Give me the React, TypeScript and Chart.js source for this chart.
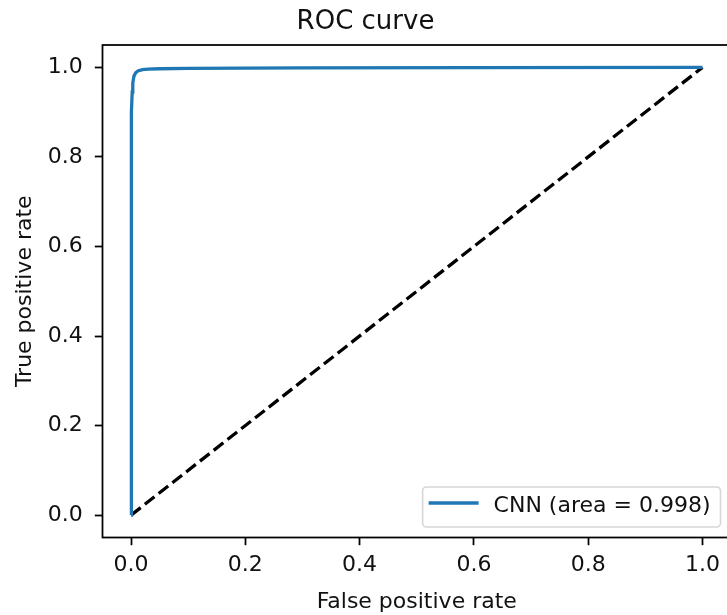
import React, { useEffect, useRef } from 'react';
import { Chart, registerables } from 'chart.js';

Chart.register(...registerables);

// ROC curve points (false positive rate / true positive rate)
const fpr = [0, 0.0002, 0.0005, 0.001, 0.002, 0.003, 0.005, 0.008, 0.012, 0.02, 0.03, 0.05, 0.1, 0.3, 0.6, 1.0];
const tpr = [0, 0.6, 0.82, 0.9, 0.945, 0.965, 0.98, 0.988, 0.992, 0.995, 0.996, 0.997, 0.998, 0.999, 0.9995, 1.0];

// chance diagonal
const diagX = [0, 1];
const diagY = [0, 1];

const titleText = 'ROC curve';
const xLabel = 'False positive rate';
const yLabel = 'True positive rate';
const seriesLabel = 'CNN (area = 0.998)';

const FONT = '"DejaVu Sans", sans-serif';
const BLUE = '#1f77b4';
const TEXT = '#111';

const framePlugin = {
  id: 'frameAndLegend',
  afterDatasetsDraw(chart: any) {
    const { ctx, chartArea } = chart;
    const { left, top, right, bottom } = chartArea;
    ctx.save();
    // spines
    ctx.strokeStyle = '#000';
    ctx.lineWidth = 1.76;
    ctx.strokeRect(left, top, right - left, bottom - top);

    // legend (lower right, inside axes)
    ctx.font = `22px ${FONT}`;
    const textW = ctx.measureText(seriesLabel).width;
    const padL = 6, handleLen = 50, gap = 15, padR = 10, boxH = 40;
    const boxR = right - 10.5;
    const boxB = bottom - 10.5;
    const boxW = padL + handleLen + gap + textW + padR;
    const boxL = boxR - boxW;
    const boxT = boxB - boxH;
    const r = 4;
    ctx.beginPath();
    ctx.moveTo(boxL + r, boxT);
    ctx.lineTo(boxR - r, boxT);
    ctx.arcTo(boxR, boxT, boxR, boxT + r, r);
    ctx.lineTo(boxR, boxB - r);
    ctx.arcTo(boxR, boxB, boxR - r, boxB, r);
    ctx.lineTo(boxL + r, boxB);
    ctx.arcTo(boxL, boxB, boxL, boxB - r, r);
    ctx.lineTo(boxL, boxT + r);
    ctx.arcTo(boxL, boxT, boxL + r, boxT, r);
    ctx.closePath();
    ctx.fillStyle = 'rgba(255,255,255,0.8)';
    ctx.fill();
    ctx.strokeStyle = '#d6d6d6';
    ctx.lineWidth = 1.6;
    ctx.stroke();

    ctx.beginPath();
    ctx.moveTo(boxL + padL, boxT + 16);
    ctx.lineTo(boxL + padL + handleLen, boxT + 16);
    ctx.strokeStyle = BLUE;
    ctx.lineWidth = 3.3;
    ctx.stroke();

    ctx.fillStyle = TEXT;
    ctx.textBaseline = 'alphabetic';
    ctx.textAlign = 'left';
    ctx.fillText(seriesLabel, boxL + padL + handleLen + gap, boxT + 25);
    ctx.restore();
  },
};

export default function App() {
  const ref = useRef<HTMLCanvasElement | null>(null);

  useEffect(() => {
    if (!ref.current) return;
    const chart = new Chart(ref.current, {
      type: 'scatter',
      data: {
        datasets: [
          {
            label: seriesLabel,
            data: fpr.map((x, i) => ({ x, y: tpr[i] })),
            showLine: true,
            borderColor: BLUE,
            backgroundColor: BLUE,
            borderWidth: 3.3,
            pointRadius: 0,
            tension: 0,
            order: 0,
          },
          {
            label: 'chance',
            data: diagX.map((x, i) => ({ x, y: diagY[i] })),
            showLine: true,
            borderColor: '#000',
            backgroundColor: '#000',
            borderWidth: 3.3,
            borderDash: [12.2, 5.3],
            pointRadius: 0,
            order: 1,
          },
        ],
      },
      options: {
        responsive: false,
        animation: false,
        devicePixelRatio: 1,
        layout: { padding: 0 },
        plugins: {
          legend: { display: false },
          tooltip: { enabled: false },
          title: {
            display: true,
            text: titleText,
            color: TEXT,
            font: { family: FONT, size: 26, weight: 'normal', lineHeight: 1.2 },
            padding: { top: 7.1, bottom: 6.7 },
          },
        },
        scales: {
          x: {
            type: 'linear',
            min: -0.05,
            max: 1.05,
            afterFit: (s: any) => { s.height = 77.5; },
            border: { display: false },
            grid: { display: true, drawOnChartArea: false, drawTicks: true, tickLength: 7.7, tickColor: '#000', tickWidth: 1.76 },
            ticks: {
              stepSize: 0.2,
              includeBounds: false,
              padding: 7,
              color: TEXT,
              font: { family: FONT, size: 22, lineHeight: 1.2 },
              maxRotation: 0,
              callback: (v: any) => Number(v).toFixed(1),
            },
            title: {
              display: true,
              text: xLabel,
              color: TEXT,
              font: { family: FONT, size: 22, lineHeight: 1.2 },
              padding: { top: 5.4, bottom: 0 },
            },
          },
          y: {
            type: 'linear',
            min: -0.05,
            max: 1.05,
            afterFit: (s: any) => { s.width = 102.5; },
            border: { display: false },
            grid: { display: true, drawOnChartArea: false, drawTicks: true, tickLength: 7.7, tickColor: '#000', tickWidth: 1.76 },
            ticks: {
              stepSize: 0.2,
              includeBounds: false,
              padding: 12,
              color: TEXT,
              font: { family: FONT, size: 22, lineHeight: 1.2 },
              callback: (v: any) => Number(v).toFixed(1),
            },
            title: {
              display: true,
              text: yLabel,
              color: TEXT,
              font: { family: FONT, size: 22, lineHeight: 1.2 },
              padding: { top: 12.2, bottom: 0 },
            },
          },
        },
      },
      plugins: [framePlugin],
    } as any);
    return () => chart.destroy();
  }, []);

  return (
    <div style={{ position: 'fixed', left: 0, top: 0, width: 727, height: 615, overflow: 'hidden', background: '#fff' }}>
      <canvas ref={ref} width={731} height={615} style={{ display: 'block', width: 731, height: 615 }} />
    </div>
  );
}
